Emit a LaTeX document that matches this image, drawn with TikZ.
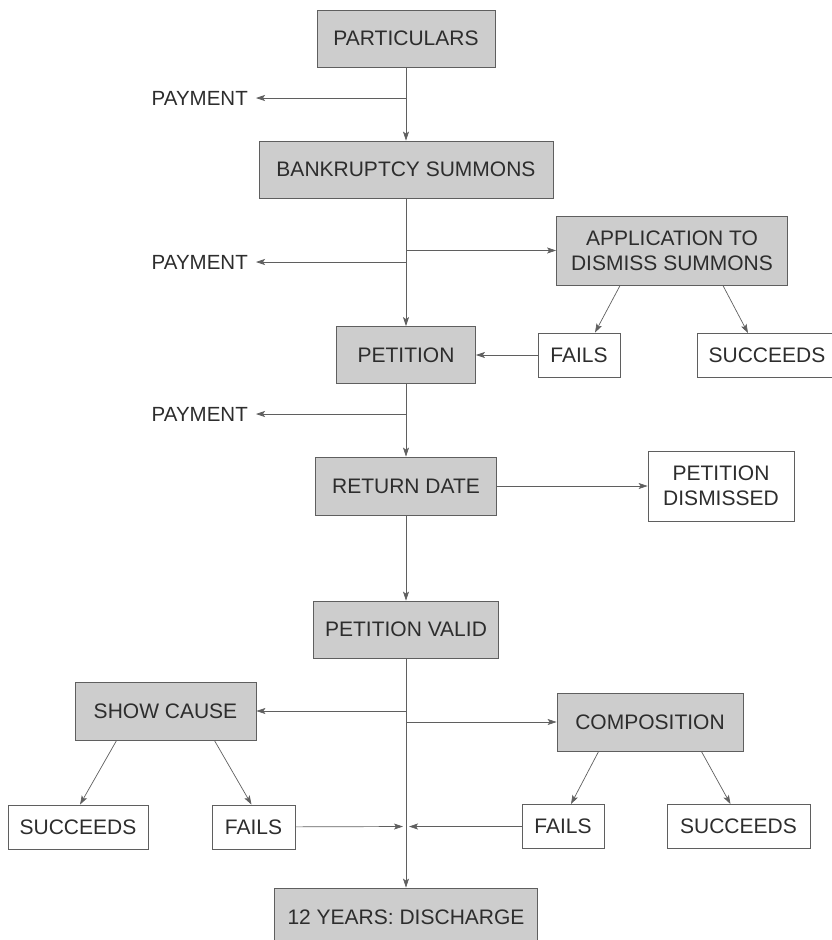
\documentclass[tikz,border=0pt]{standalone}
\usepackage{fontspec}
\setmainfont{Liberation Sans}
\usetikzlibrary{arrows.meta,calc}
\definecolor{boxgrey}{RGB}{205,205,205}
\definecolor{inkgrey}{RGB}{45,45,45}
\definecolor{linegrey}{RGB}{95,95,95}

\begin{document}
\begin{tikzpicture}[x=1pt,y=-1pt,
        font=\fontsize{21}{25}\selectfont,text=inkgrey,
        stage/.style={draw=linegrey,fill=boxgrey,line width=0.8pt,inner sep=0pt,align=center,minimum height=57},
        outcome/.style={draw=linegrey,fill=white,line width=0.8pt,inner sep=0pt,align=center,minimum height=44},
        paytext/.style={anchor=east,inner sep=0pt,inner xsep=8pt,font=\fontsize{20.5}{25}\selectfont},
        flow/.style={draw=linegrey,line width=0.7pt,-{Stealth[length=9pt,width=6pt,inset=2pt]}}]
    \useasboundingbox (0,0) rectangle (831,940);
    % main line
    \node[stage,minimum width=178] (part) at (406,38.5) {PARTICULARS};
    \node[stage,minimum width=294] (bank) at (406,169.5) {BANKRUPTCY SUMMONS};
    \node[stage,minimum width=139] (pet) at (406,355) {PETITION};
    \node[stage,minimum width=181,minimum height=58] (ret) at (406,486) {RETURN DATE};
    \node[stage,minimum width=185] (valid) at (406,629.5) {PETITION VALID};
    \node[stage,minimum width=263,minimum height=58] (disch) at (406,917) {12 YEARS: DISCHARGE};
    % side boxes
    \node[stage,minimum width=231,minimum height=69] (app) at (672,250.5) {APPLICATION TO\\DISMISS SUMMONS};
    \node[outcome,minimum width=82] (fail1) at (579,355) {FAILS};
    \node[outcome,minimum width=140] (succ1) at (767,355.5) {SUCCEEDS};
    \node[outcome,minimum width=146,minimum height=70] (dis) at (721,486) {PETITION\\DISMISSED};
    \node[stage,minimum width=181,minimum height=58] (show) at (165.5,711) {SHOW CAUSE};
    \node[stage,minimum width=186,minimum height=58] (comp) at (650,722) {COMPOSITION};
    \node[outcome,minimum width=140] (succL) at (78,827) {SUCCEEDS};
    \node[outcome,minimum width=83] (failL) at (253.5,827) {FAILS};
    \node[outcome,minimum width=82] (failR) at (563,826.5) {FAILS};
    \node[outcome,minimum width=143] (succR) at (738.5,826.5) {SUCCEEDS};
    % payments
    \node[paytext] (pay1) at (256,98) {PAYMENT};
    \node[paytext] (pay2) at (256,262) {PAYMENT};
    \node[paytext] (pay3) at (256,414) {PAYMENT};
    % points on the main line
    \coordinate (j1) at (406,98);
    \coordinate (j2) at (406,250.5);
    \coordinate (j3) at (406,262);
    \coordinate (j4) at (406,414);
    \coordinate (j5) at (406,711);
    \coordinate (j6) at (406,722);
    \coordinate (j7) at (406,826.5);
    % connectors
    \draw[flow] (part) -- (bank);
    \draw[flow] (bank) -- (pet);
    \draw[flow] (pet) -- (ret);
    \draw[flow] (ret) -- (valid);
    \draw[flow] (valid) -- (disch);
    \draw[flow] (j1) -- (pay1.east);
    \draw[flow] (j3) -- (pay2.east);
    \draw[flow] (j4) -- (pay3.east);
    \draw[flow] (j2) -- (j2 -| app.west);
    \draw[flow] ($(app.south west)+(64,0)$) -- ($(fail1.north)+(16,0)$);
    \draw[flow] ($(app.south east)+(-65,0)$) -- ($(succ1.north)+(-19,0)$);
    \draw[flow] (fail1) -- (pet);
    \draw[flow] (ret) -- (dis);
    \draw[flow] (j5) -- (j5 -| show.east);
    \draw[flow] (j6) -- (j6 -| comp.west);
    \draw[flow] ($(show.south west)+(42,0)$) -- ($(succL.north)+(2,0)$);
    \draw[flow] ($(show.south east)+(-42,0)$) -- ($(failL.north)+(-2,0)$);
    \draw[flow] ($(comp.south west)+(42,0)$) -- ($(failR.north)+(8,0)$);
    \draw[flow] ($(comp.south east)+(-42,0)$) -- ($(succR.north)+(-8,0)$);
    \draw[flow,shorten >=3pt] (failL) -- (j7);
    \draw[flow,shorten >=3pt] (failR) -- (j7);
\end{tikzpicture}
\end{document}
